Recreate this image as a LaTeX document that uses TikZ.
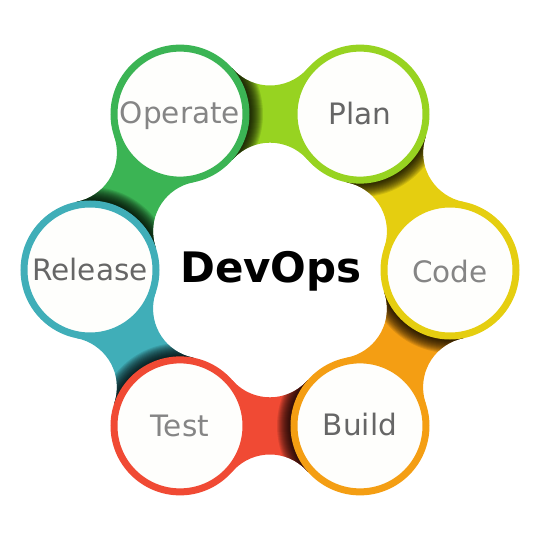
\documentclass[tikz,border=0pt]{standalone}
\usepackage{fontspec}
\setmainfont{DejaVu Sans}
\definecolor{planG}{RGB}{151,211,33}
\definecolor{codeY}{RGB}{229,206,16}
\definecolor{buildO}{RGB}{244,158,19}
\definecolor{testR}{RGB}{240,74,52}
\definecolor{releaseT}{RGB}{64,174,184}
\definecolor{operateG}{RGB}{59,180,84}
\definecolor{discfill}{RGB}{254,254,252}
\definecolor{lightlabel}{RGB}{133,133,133}
\definecolor{darklabel}{RGB}{102,102,102}
\tikzset{
  stage/.style={circle, draw=#1, line width=7pt, fill=discfill,
    minimum size=132pt, inner sep=0pt},
  tag/.style={font=\fontsize{29.5}{35}\selectfont, anchor=base, inner sep=0pt},
  hub/.style={font=\bfseries\fontsize{42}{50}\selectfont, text=black, anchor=base},
}
\begin{document}
\begin{tikzpicture}[x=1pt,y=1pt]
\useasboundingbox (0,0) rectangle (542,542);
\begin{scope}[shift={(270,272)}]
  % colored bridges between neighbouring discs, each shaded by the disc before it
  \foreach \a/\col in {0/codeY,300/buildO,240/testR,180/releaseT,120/operateG,60/planG}{
    \begin{scope}
      \clip (\a:180) -- (\a+30:234.5) -- (\a+60:180) -- (\a+30:77.3) -- cycle;
      \begin{scope}[even odd rule]
        \clip (-300,-300) rectangle (300,300)
          (\a+30:234.5) circle (50) (\a+30:77.3) circle (50);
        \fill[\col] (-300,-300) rectangle (300,300);
        \foreach \r in {70,71,...,83}
          \fill[black, opacity=0.1] (\a+60:180) circle (\r);
      \end{scope}
    \end{scope}
  }
  % stage discs
  \node[stage=codeY]    (code)    at (0:180)   {};
  \node[stage=planG]    (plan)    at (60:180)  {};
  \node[stage=operateG] (operate) at (120:180) {};
  \node[stage=releaseT] (release) at (180:180) {};
  \node[stage=testR]    (test)    at (240:180) {};
  \node[stage=buildO]   (build)   at (300:180) {};
  % stage names
  \node[tag, text=lightlabel] (codetext)    at ([yshift=-12.5pt]code.center)    {Code};
  \node[tag, text=darklabel]  (plantext)    at ([yshift=-10pt]plan.center)      {Plan};
  \node[tag, text=lightlabel] (operatetext) at ([yshift=-9pt]operate.center)    {Operate};
  \node[tag, text=darklabel]  (releasetext) at ([yshift=-11pt]release.center)   {Release};
  \node[tag, text=lightlabel] (testtext)    at ([yshift=-10.5pt]test.center)    {Test};
  \node[tag, text=darklabel]  (buildtext)   at ([yshift=-10pt]build.center)     {Build};
  % centre title
  \node[hub] (devops) at (1,-13) {DevOps};
\end{scope}
\end{tikzpicture}
\end{document}
